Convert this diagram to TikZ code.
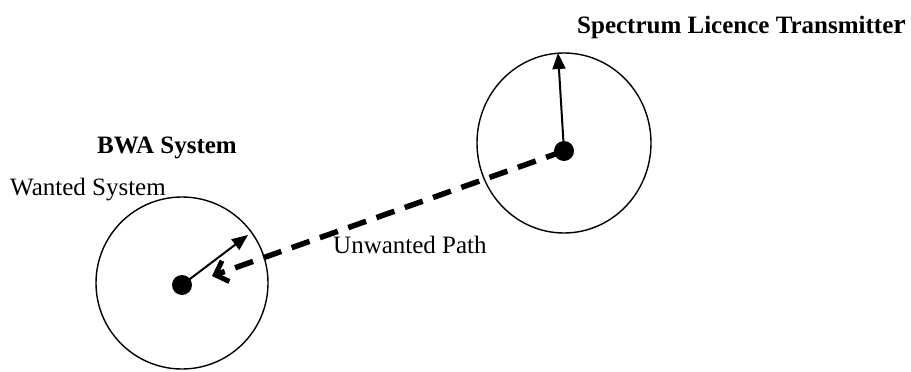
\documentclass[tikz,border=0pt]{standalone}
\usepackage{fontspec}
\setmainfont{Liberation Serif}
\usetikzlibrary{arrows.meta}
\begin{document}
\begin{tikzpicture}[x=1pt,y=-1pt,
  lbl/.style={anchor=base west,inner sep=0pt,font=\fontsize{25}{30}\selectfont},
  blbl/.style={lbl,font=\fontsize{25}{30}\selectfont\bfseries},
  dot/.style={circle,fill=black,inner sep=0pt,minimum size=20pt},
  ring/.style={draw,line width=1.4pt},
  solidarrow/.style={line width=2pt,-{Triangle[length=16pt,width=13pt]}},
  dashline/.style={line width=5.5pt,dash pattern=on 19pt off 11pt,-{Straight Barb[length=11pt,width=22pt,line width=5pt]}}]
\useasboundingbox (0,0) rectangle (911,372);
% circles
\draw[ring] (182,283) circle (86);
\draw[ring] (564,143) ellipse [x radius=87, y radius=90];
% dots
\node[dot] (rx) at (182,285) {};
\node[dot] (tx) at (564,151) {};
% arrow endpoints
\coordinate (rxtip) at (248,235);
\coordinate (txtip) at (558,53);
\coordinate (pathend) at (212,276);
% arrows
\draw[solidarrow] (rx.center) -- (rxtip);
\draw[solidarrow] (tx.center) -- (txtip);
\draw[dashline] (tx.center) -- (pathend);
% labels
\node[blbl] (slt) at (577,33) {Spectrum Licence Transmitte{\fontsize{28}{30}\selectfont r}};
\node[blbl] (bwa) at (97,153) {BWA System};
\node[lbl] (ws) at (10,195) {Wanted System};
\node[lbl] (up) at (333,253) {Unwanted Path};
\end{tikzpicture}
\end{document}
